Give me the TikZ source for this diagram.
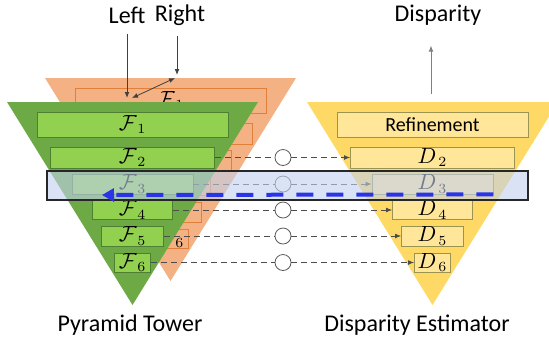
\documentclass[tikz,border=0pt]{standalone}
\usepackage{fontspec}
\setmainfont{Carlito}
\usepackage{xcolor}
\usepackage{tikz}
\usetikzlibrary{arrows.meta, positioning}
\definecolor{rightorange}{HTML}{F4B183}
\definecolor{orangeedge}{HTML}{E0803A}
\definecolor{leftgreen}{HTML}{6DAA45}
\definecolor{boxgreen}{HTML}{92D050}
\definecolor{greenedge}{HTML}{4F7F30}
\definecolor{estyellow}{HTML}{FFD966}
\definecolor{boxyellow}{HTML}{FFE699}
\definecolor{yellowedge}{HTML}{9A9450}
\definecolor{bandblue}{HTML}{C2D1EE}
\definecolor{flowblue}{HTML}{2A35E8}

\begin{document}
\begin{tikzpicture}[
    x=0.5pt, y=-0.5pt,
    lvl/.style={draw, inner sep=0pt, font=\fontsize{10.5}{12}\selectfont},
    title/.style={font=\fontsize{12}{14}\selectfont, inner sep=2pt},
    feed/.style={draw=black!75, line width=0.4pt, -{Latex[length=3pt, width=2.4pt]}},
    link/.style={draw=black!70, densely dashed, line width=0.4pt},
    junction/.style={circle, draw=black!65, fill=white, minimum size=8pt, inner sep=0pt},
]
    \clip (0,0) rectangle (549,349);

    % Right-view pyramid (behind)
    \fill[rightorange] (45,78) -- (296,78) -- (170.5,281) -- cycle;
    \foreach \i/\w/\cy/\h in {1/191/100.5/25, 2/164/133.5/21, 3/121/160/20, 4/80/186/18, 5/62/212/20, 6/36/238.5/19} {
        \node[lvl, draw=orangeedge, fill=rightorange, minimum width={\w*0.5pt}, minimum height={\h*0.5pt}] (o\i) at (170.5,\cy) {$\mathcal{F}_{\,\i}$};
    }

    % Left-view pyramid
    \fill[leftgreen] (7,102) -- (258,102) -- (132.5,305) -- cycle;
    \foreach \i/\w/\cy/\h in {1/191/124.5/25, 2/164/157.5/21, 3/121/184/20, 4/80/210/18, 5/62/236/20, 6/36/262.5/19} {
        \node[lvl, draw=greenedge, fill=boxgreen, minimum width={\w*0.5pt}, minimum height={\h*0.5pt}] (g\i) at (132.5,\cy) {$\mathcal{F}_{\,\i}$};
    }

    % Disparity estimator
    \fill[estyellow] (307,102) -- (558,102) -- (432.5,305) -- cycle;
    \node[lvl, draw=yellowedge, fill=boxyellow, minimum width=95.5pt, minimum height=12.5pt, font=\fontsize{10}{12}\selectfont] (y1) at (432.5,124.5) {Refinement};
    \foreach \i/\w/\cy/\h in {2/164/157.5/21, 3/121/184/20, 4/80/210/18, 5/62/236/20, 6/36/262.5/19} {
        \node[lvl, draw=yellowedge, fill=boxyellow, minimum width={\w*0.5pt}, minimum height={\h*0.5pt}] (y\i) at (432.5,\cy) {$D_{\,\i}$};
    }

    % Cost aggregation links
    \coordinate (cx) at (283,0);
    \foreach \i in {2,...,6} {
        \node[junction] (c\i) at (g\i.east -| cx) {};
        \draw[link] (g\i.east) -- (c\i.west);
        \draw[link, -{Latex[length=3pt, width=2.4pt]}] (c\i.east) -- (y\i.west);
    }

    % Titles
    \node[title] (left) at (127,15) {Left};
    \node[title] (right) at (180,15) {Right};
    \node[title] (disp) at (438,15) {Disparity};
    \node[title] (tower) at (130,325) {Pyramid Tower};
    \node[title] (estim) at (417,325) {Disparity Estimator};

    % Inputs and output
    \coordinate (lin) at (127,98);
    \coordinate (rin) at (177,75);
    \coordinate (lx) at (132,98);
    \coordinate (rx) at (175,78);
    \coordinate (dout) at (431,94);
    \draw[feed, shorten <=3pt] (left.south -| lin) -- (lin);
    \draw[feed, shorten <=3pt] (right.south -| rin) -- (rin);
    \draw[feed, {Latex[length=3pt, width=2.4pt]}-{Latex[length=3pt, width=2.4pt]}] (lx) -- (rx);
    \draw[feed, draw=black!50, shorten >=8pt] (dout) -- (disp.south -| dout);

    % Highlighted level
    \node[draw=black!85, line width=0.8pt, fill=bandblue, fill opacity=0.6, minimum width=240.5pt, minimum height=14.5pt, inner sep=0pt] (band) at (287.5,185.5) {};
    \coordinate (fe) at (102,195);
    \draw[flowblue, line width=2pt, dash pattern=on 8.5pt off 6.5pt, -{Triangle[length=6pt, width=6.5pt]}] (y3.south east) -- (fe);
\end{tikzpicture}
\end{document}
